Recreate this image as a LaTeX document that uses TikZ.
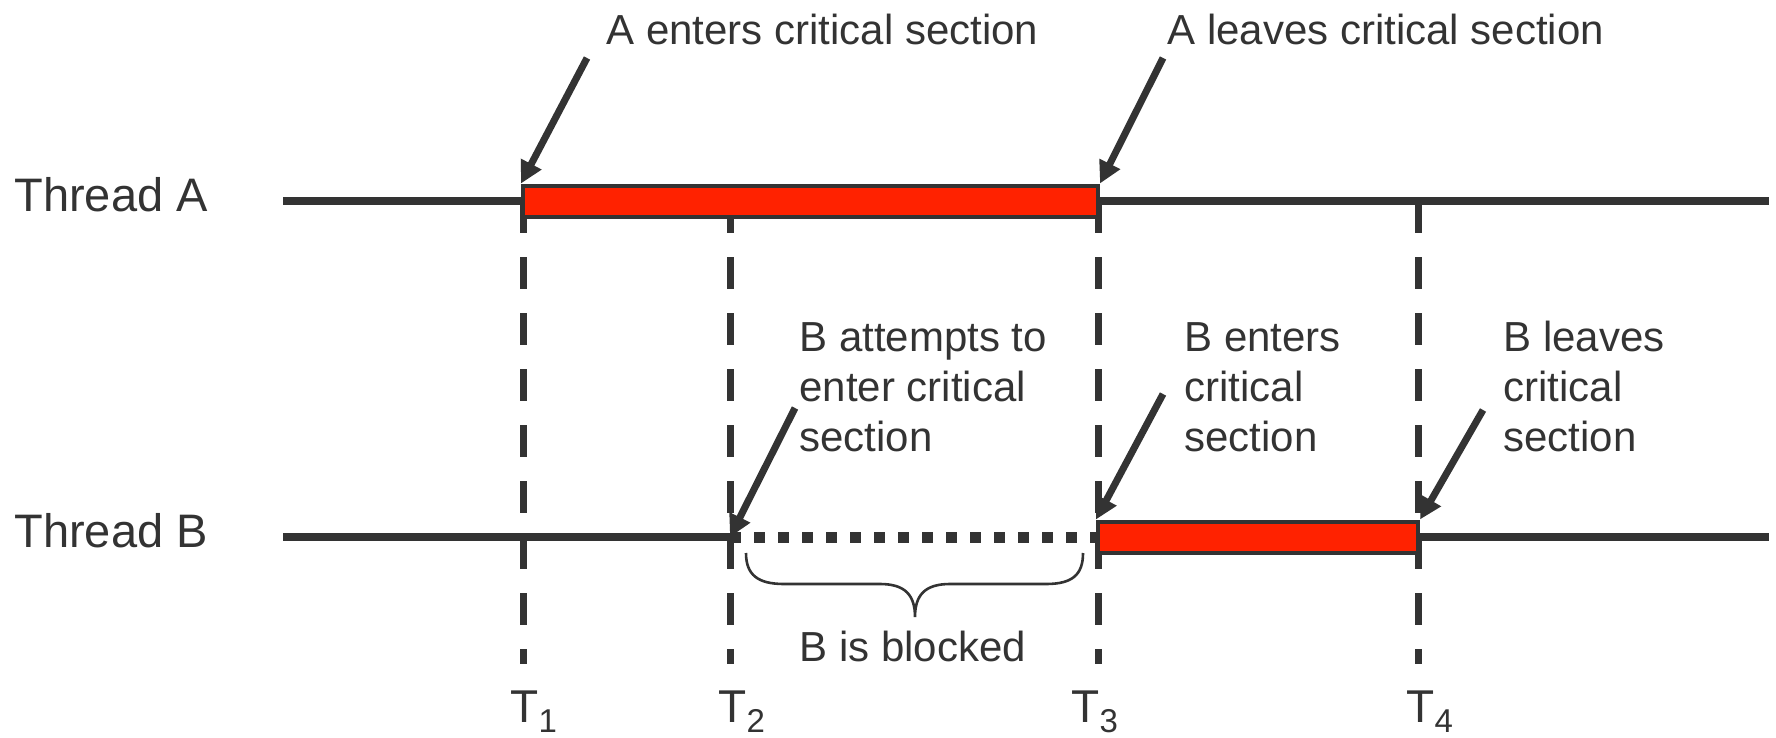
\documentclass[tikz,border=0pt]{standalone}
\usepackage{fontspec}
\setmainfont{Liberation Sans}
\usetikzlibrary{arrows.meta}
\definecolor{ink}{HTML}{333333}
\definecolor{crit}{HTML}{FF2200}
\newcommand{\Tlab}[1]{T\raisebox{-5pt}{\fontsize{16.5pt}{18pt}\selectfont #1}}
\begin{document}
\begin{tikzpicture}[x=0.5pt,y=-0.5pt,
  lbl/.style={anchor=base west,inner sep=0pt,text=ink,font=\fontsize{21pt}{25pt}\selectfont},
  thr/.style={anchor=base west,inner sep=0pt,text=ink,font=\fontsize{23.5pt}{28pt}\selectfont},
  tlbl/.style={anchor=base west,inner sep=0pt,text=ink,font=\fontsize{23pt}{27pt}\selectfont},
  tline/.style={draw=ink,line width=3.75pt},
  blocked/.style={draw=ink,line width=5.5pt,dash pattern=on 5.5pt off 6.5pt},
  marker/.style={draw=ink,line width=3.5pt,dash pattern=on 16pt off 12pt},
  crbar/.style={draw=ink,fill=crit,line width=2pt,inner sep=0pt,minimum height=15.5pt},
  pointer/.style={draw=ink,line width=3.5pt,-{Triangle[length=11pt,width=11pt]}},
  brace/.style={draw=ink,line width=1.3pt}]

\useasboundingbox (0,0) rectangle (1776,738);

% time points
\coordinate (t1a) at (523,201);  \coordinate (t1b) at (523,664);
\coordinate (t2a) at (730,201);  \coordinate (t2b) at (730,664);
\coordinate (t3a) at (1098,201); \coordinate (t3b) at (1098,664);
\coordinate (t4a) at (1418,201); \coordinate (t4b) at (1418,664);
\coordinate (t2B) at (730,537);
\coordinate (aStart) at (283,201); \coordinate (aEnd) at (1769,201);
\coordinate (bStart) at (283,537); \coordinate (bEnd) at (1769,537);

% dashed time markers
\draw[marker] (t1a) -- (t1b);
\draw[marker] (t2a) -- (t2b);
\draw[marker] (t3a) -- (t3b);
\draw[marker] (t4a) -- (t4b);

% thread lines
\draw[tline] (aStart) -- (aEnd);
\draw[tline] (bStart) -- (t2B);
\draw[tline] (1418,537) -- (bEnd);
\draw[blocked] (t2B) -- (1098,537);

% critical sections
\node[crbar,minimum width=287.5pt] (barA) at (810.5,201) {};
\node[crbar,minimum width=160pt] (barB) at (1258,537) {};

% labels
\node[thr] (thA) at (14,211) {Thread A};
\node[thr] (thB) at (14,547) {Thread B};

\node[lbl] (aEnt) at (606,45) {A enters critical section};
\node[lbl] (aLv) at (1167,45) {A leaves critical section};
\node[lbl] (bTry) at (799,351) {\begin{tabular}[t]{@{}l@{}}B attempts to\\enter critical\\section\end{tabular}};
\node[lbl] (bEnt) at (1184,351) {\begin{tabular}[t]{@{}l@{}}B enters\\critical\\section\end{tabular}};
\node[lbl] (bLv) at (1503,351) {\begin{tabular}[t]{@{}l@{}}B leaves\\critical\\section\end{tabular}};
\node[lbl] (blk) at (799,661) {B is blocked};

\node[tlbl] (T1) at (510,722) {\Tlab{1}};
\node[tlbl] (T2) at (718,722) {\Tlab{2}};
\node[tlbl] (T3) at (1071,722) {\Tlab{3}};
\node[tlbl] (T4) at (1406,722) {\Tlab{4}};

% pointers
\coordinate (pA1) at (587,58);
\coordinate (pA2) at (1163,58);
\coordinate (pB1) at (795,408);
\coordinate (pB2) at (1163,394);
\coordinate (pB3) at (1483,410);
\draw[pointer] (pA1) -- (barA.north west);
\draw[pointer] (pA2) -- (barA.north east);
\draw[pointer] (pB1) -- (t2B);
\draw[pointer] (pB2) -- (barB.north west);
\draw[pointer] (pB3) -- (barB.north east);

% brace
\draw[brace] (746,553) .. controls (746,575) and (758,584) .. (784,584) -- (880,584)
  .. controls (905,584) and (915,595) .. (915,617)
  .. controls (915,595) and (925,584) .. (950,584) -- (1046,584)
  .. controls (1072,584) and (1083,575) .. (1083,553);
\end{tikzpicture}
\end{document}
